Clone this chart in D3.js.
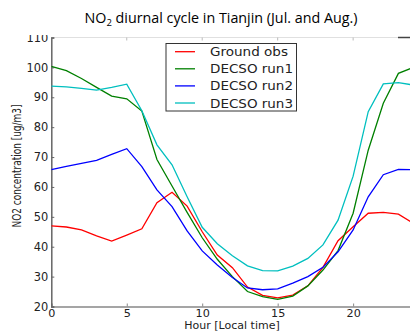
<!DOCTYPE html>
<html><head><meta charset="utf-8">
<script src="https://cdn.jsdelivr.net/npm/d3@7"></script>
<style>body{margin:0;background:#fff}svg{display:block}</style>
</head><body>
<script>
const hours = d3.range(0, 25);
const xTicks = [0, 5, 10, 15, 20];
const yTicks = [20, 30, 40, 50, 60, 70, 80, 90, 100, 110];
const seriesNames = ["Ground obs", "DECSO run1", "DECSO run2", "DECSO run3"];
const seriesColors = ["#ff0000", "#008000", "#0000ff", "#00bfbf"];
const groundObs = [47.0, 46.6, 45.6, 43.6, 41.9, 43.9, 46.0, 54.7, 58.2, 53.6, 45.0, 37.2, 33.0, 26.5, 23.7, 22.9, 23.8, 26.9, 33.1, 42.0, 46.7, 51.2, 51.5, 50.9, 47.8];
const decsoRun1 = [100.3, 98.9, 96.3, 93.3, 90.4, 89.5, 85.4, 69.2, 60.3, 51.5, 43.0, 35.8, 30.0, 25.0, 23.3, 22.4, 23.5, 26.9, 32.2, 38.7, 51.2, 72.3, 88.0, 98.0, 100.0];
const decsoRun2 = [65.8, 66.9, 67.9, 68.9, 70.9, 72.8, 66.8, 59.0, 53.4, 45.3, 38.6, 33.9, 29.7, 26.2, 25.6, 25.9, 27.8, 30.0, 33.1, 38.3, 45.6, 56.7, 64.1, 65.9, 65.8];
const decsoRun3 = [93.7, 93.5, 93.0, 92.4, 93.3, 94.4, 85.5, 74.1, 67.4, 56.7, 46.5, 41.0, 37.0, 33.6, 32.0, 31.9, 33.5, 36.1, 40.6, 48.9, 63.6, 85.2, 94.5, 94.9, 94.1];
const allSeries = [groundObs, decsoRun1, decsoRun2, decsoRun3];

const W = 410, H = 331;
const L = 51.3, R = 413.5, T = 37.5, B = 306.5;
const svg = d3.select("body").append("svg").attr("width", W).attr("height", H);
const x = d3.scaleLinear().domain([0, 24]).range([L, R]);
const y = d3.scaleLinear().domain([20, 110]).range([B, T]);

svg.append("defs").append("clipPath").attr("id", "clip")
  .append("rect").attr("x", L).attr("y", T - 2).attr("width", R - L).attr("height", B - T + 2);

// top spine (light)
svg.append("line").attr("x1", L).attr("x2", W).attr("y1", T).attr("y2", T)
  .attr("stroke", "#e0e0e0").attr("stroke-width", 1);
// top ticks
svg.append("g").selectAll("line").data(xTicks.filter(d => d > 0)).join("line")
  .attr("x1", d => x(d)).attr("x2", d => x(d)).attr("y1", T).attr("y2", T + 3)
  .attr("stroke", "#bbb").attr("stroke-width", 1);
// right tick at 110
svg.append("line").attr("x1", 398).attr("x2", W).attr("y1", T).attr("y2", T)
  .attr("stroke", "#444").attr("stroke-width", 1.5);

const font = "DejaVu Sans, Verdana, sans-serif";
// bottom axis
const xAxis = svg.append("g").attr("transform", `translate(0,${B})`)
  .call(d3.axisBottom(x).tickValues(xTicks).tickSize(-3).tickPadding(2.5).tickFormat(d3.format("d")));
xAxis.select(".domain").attr("stroke", "#888").attr("stroke-width", 1.5);
xAxis.selectAll(".tick line").attr("stroke", "#888");
xAxis.selectAll("text").attr("font-family", font).attr("font-size", 11.2).attr("fill", "#222");

// left axis
const yAxis = svg.append("g").attr("transform", `translate(${L},0)`)
  .call(d3.axisLeft(y).tickValues(yTicks).tickSize(-3).tickPadding(3).tickFormat(d3.format("d")));
yAxis.select(".domain").attr("stroke", "#666").attr("stroke-width", 1.5);
yAxis.selectAll(".tick line").attr("stroke", "#666");
yAxis.selectAll("text").attr("font-family", font).attr("font-size", 11.4).attr("fill", "#222");

// lines
const line = d3.line().x((d, i) => x(hours[i])).y(d => y(d));
svg.append("g").attr("clip-path", "url(#clip)").selectAll("path").data(allSeries).join("path")
  .attr("d", line).attr("fill", "none")
  .attr("stroke", (d, i) => seriesColors[i]).attr("stroke-width", 1.3);

// white band hiding top of "110" label
svg.append("rect").attr("x", 0).attr("y", 0).attr("width", L - 2).attr("height", 35).attr("fill", "#fff");

// title
const title = svg.append("text").attr("x", 221).attr("y", 22.5).attr("text-anchor", "middle")
  .attr("font-family", "Open Sans, sans-serif").attr("font-size", 14.3).attr("fill", "#000");
title.append("tspan").text("NO");
title.append("tspan").attr("font-size", 9.5).attr("dy", 3).text("2");
title.append("tspan").attr("dy", -3).text(" diurnal cycle in Tianjin (Jul. and Aug.)");

// axis labels
svg.append("text").attr("x", 232).attr("y", 329).attr("text-anchor", "middle")
  .attr("font-family", font).attr("font-size", 11).attr("fill", "#222").text("Hour [Local time]");
svg.append("text").attr("transform", "translate(21,166) rotate(-90)").attr("text-anchor", "middle")
  .attr("font-family", font).attr("font-size", 12).attr("fill", "#222")
  .attr("textLength", 123).attr("lengthAdjust", "spacingAndGlyphs").text("NO2 concentration [ug/m3]");

// legend
const lg = svg.append("g");
lg.append("rect").attr("x", 166).attr("y", 43.5).attr("width", 130.5).attr("height", 67.5)
  .attr("fill", "#fff").attr("stroke", "#333").attr("stroke-width", 1);
const ly = [51.7, 68.8, 85.9, 103.0];
seriesNames.forEach((name, i) => {
  lg.append("line").attr("x1", 175).attr("x2", 195).attr("y1", ly[i]).attr("y2", ly[i])
    .attr("stroke", seriesColors[i]).attr("stroke-width", 1.3);
  lg.append("text").attr("x", 210).attr("y", ly[i] + 4.5)
    .attr("font-family", font).attr("font-size", 12.5).attr("fill", "#222")
    .attr("textLength", name === "Ground obs" ? 78 : 83).attr("lengthAdjust", "spacingAndGlyphs")
    .text(name);
});
</script>
</body></html>
